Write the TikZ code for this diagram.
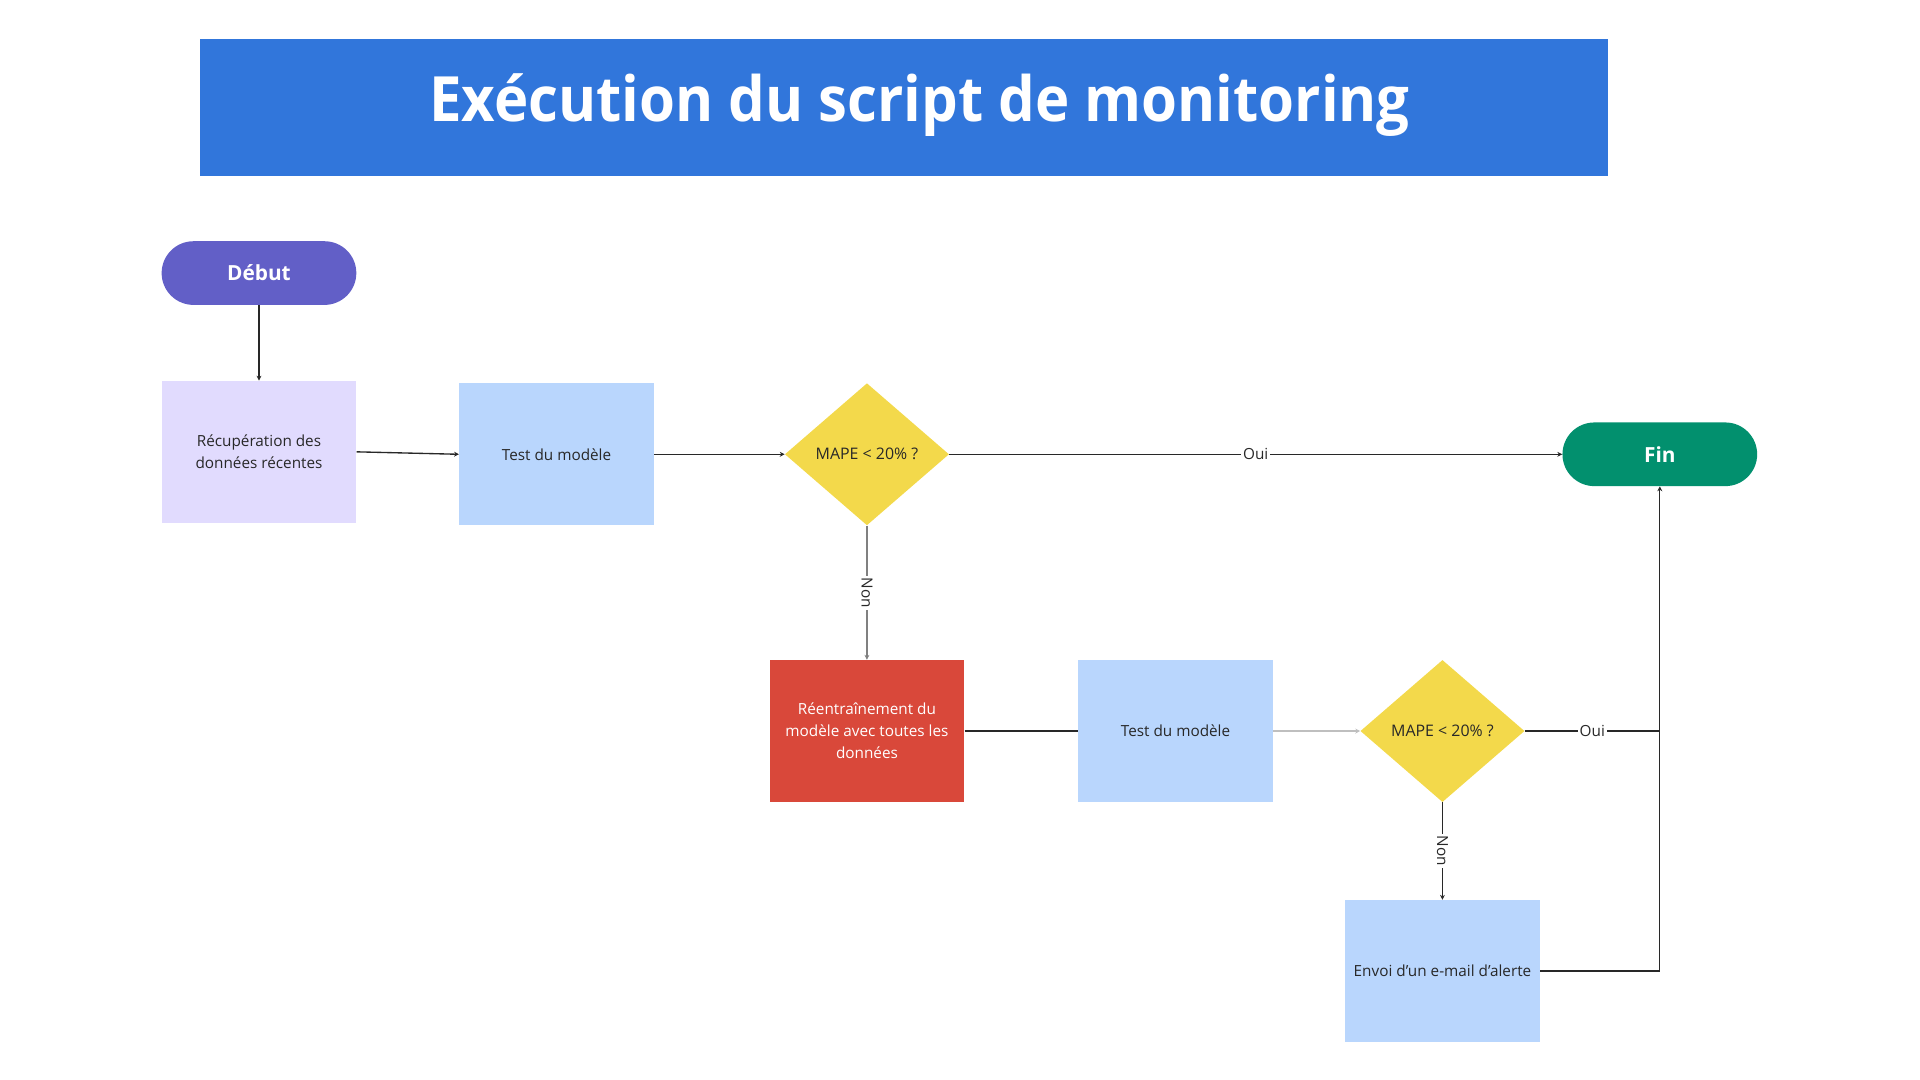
\documentclass[tikz,border=0pt]{standalone}
\usepackage{fontspec}
\setmainfont{Open Sans}
\usetikzlibrary{arrows.meta}
\usetikzlibrary{shapes.geometric}

\definecolor{titleblue}{RGB}{49,118,219}
\definecolor{startviolet}{RGB}{98,95,199}
\definecolor{lavender}{RGB}{225,219,254}
\definecolor{paleblue}{RGB}{185,214,253}
\definecolor{mapeyellow}{RGB}{243,217,75}
\definecolor{endgreen}{RGB}{2,144,110}
\definecolor{retrainred}{RGB}{217,72,58}
\definecolor{inkgray}{RGB}{40,40,40}

\begin{document}
\begin{tikzpicture}[x=1pt, y=-1pt,
	box/.style={rectangle, minimum width=159pt, minimum height=116pt, inner sep=0pt, align=center, text=inkgray, font=\fontsize{12.5}{18}\selectfont},
	pill/.style={rectangle, rounded corners=26pt, minimum width=159pt, minimum height=52pt, inner sep=0pt, text=white, font=\fontsize{17}{20}\selectfont\bfseries},
	decision/.style={diamond, fill=mapeyellow, minimum width=134pt, minimum height=116pt, inner sep=0pt, text=inkgray, font=\fontsize{13}{15}\selectfont},
	link/.style={-{Stealth[length=4pt, width=4pt]}, line width=1.1pt, draw=inkgray},
	lbl/.style={fill=white, inner sep=1.5pt, text=inkgray, font=\fontsize{12.5}{15}\selectfont}]

	\useasboundingbox (0,0) rectangle (1568,882);

	%title
	\node[rectangle, fill=titleblue, minimum width=1150pt, minimum height=112pt, inner sep=0pt] (titlebar) at (738,88) {};
	\node[text=white, font=\fontsize{51}{58}\selectfont\bfseries] (titletext) at (751,86) {\scalebox{0.93}[1]{Exécution du script de monitoring}};

	%start and end
	\node[pill, fill=startviolet] (debut) at (211.5,223) {Début};
	\node[pill, fill=endgreen] (fin) at (1355.5,371) {Fin};

	%first pass
	\node[box, fill=lavender] (recup) at (211.5,369) {Récupération des\\données récentes};
	\node[box, fill=paleblue] (test1) at (454.5,371) {Test du modèle};
	\node[decision] (mape1) at (708,371) {MAPE < 20\% ?};

	%second pass
	\node[box, fill=retrainred, text=white] (reent) at (708,597) {Réentraînement du\\modèle avec toutes les\\données};
	\node[box, fill=paleblue] (test2) at (960,597) {Test du modèle};
	\node[decision] (mape2) at (1178,597) {MAPE < 20\% ?};
	\node[box, fill=paleblue] (envoi) at (1178,793) {Envoi d’un e-mail d’alerte};

	\coordinate (corner) at (fin.south |- envoi.east);
	\coordinate (merge) at (fin.south |- mape2.east);

	%edges
	\draw[link] (debut) -- (recup);
	\draw[link] (recup.east) -- (test1.west);
	\draw[link] (test1) -- (mape1);
	\draw[link] (mape1) -- node[lbl] (oui1) {Oui} (fin);
	\draw[link, draw=gray] (mape1) -- node[lbl, rotate=-90] (non1) {Non} (reent);
	\draw[line width=1.1pt, draw=inkgray] (reent) -- (test2);
	\draw[link, draw=black!25!white] (test2) -- (mape2);
	\draw[line width=1.1pt, draw=inkgray] (mape2.east) -- node[lbl] (oui2) {Oui} (merge);
	\draw[link] (mape2) -- node[lbl, rotate=-90] (non2) {Non} (envoi);
	\draw[link] (envoi.east) -- (corner) -- (fin.south);

\end{tikzpicture}
\end{document}
